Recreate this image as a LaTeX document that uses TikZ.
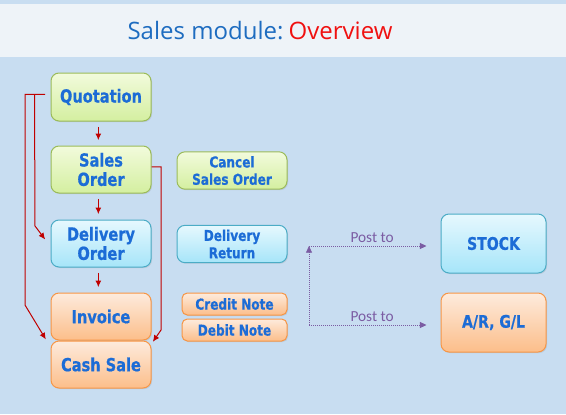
\documentclass[tikz,border=0pt]{standalone}
\usepackage{fontspec}
\setmainfont{Open Sans}
\newfontfamily\boxfont{DejaVu Sans Condensed}[FakeStretch=0.9, BoldFeatures={FakeBold=0.6}]
\newfontfamily\postfont{Carlito}
\usepackage{tikz}
\usetikzlibrary{arrows.meta, shadows}

\definecolor{bgblue}{HTML}{C8DDF1}
\definecolor{titlebg}{HTML}{EEF3F8}
\definecolor{titleblue}{HTML}{1E6CC0}
\definecolor{titlered}{HTML}{F01010}
\definecolor{txtblue}{HTML}{1C6CD6}
\definecolor{linkred}{HTML}{C00000}
\definecolor{postpurple}{HTML}{7B5CA3}
\definecolor{greenline}{HTML}{9BBB59}
\definecolor{greentop}{HTML}{F2FBDC}
\definecolor{greenbot}{HTML}{D4EFA0}
\definecolor{blueline}{HTML}{4BACC6}
\definecolor{bluetop}{HTML}{E6F8FE}
\definecolor{bluebot}{HTML}{A6E5F9}
\definecolor{orangeline}{HTML}{F79646}
\definecolor{orangetop}{HTML}{FDEBDD}
\definecolor{orangebot}{HTML}{FCBE8A}

\tikzset{
  box/.style={draw, rounded corners=6pt, line width=0.75pt, align=center, text=txtblue,
    font=\boxfont\bfseries\fontsize{13.5}{14.5}\selectfont, inner sep=0pt,
    drop shadow={shadow xshift=0.8pt, shadow yshift=-0.8pt, opacity=0.2}},
  greenbox/.style={box, draw=greenline, top color=greentop, bottom color=greenbot},
  bluebox/.style={box, draw=blueline, top color=bluetop, bottom color=bluebot},
  orangebox/.style={box, draw=orangeline, top color=orangetop, bottom color=orangebot},
  mainbox/.style={minimum width=75pt, minimum height=35.25pt},
  sidebox/.style={minimum width=82.5pt, minimum height=28pt, font=\boxfont\bfseries\fontsize{11.2}{13}\selectfont},
  notebox/.style={minimum width=78.75pt, minimum height=16.5pt, rounded corners=4pt, font=\boxfont\bfseries\fontsize{11.2}{12}\selectfont},
  postbox/.style={minimum width=78.75pt, minimum height=44.25pt, font=\boxfont\bfseries\fontsize{13}{14}\selectfont},
  link/.style={linkred, line width=0.75pt, -{Latex[length=5pt,width=4.5pt]}},
  post/.style={postpurple, line width=0.6pt, dash pattern=on 0.75pt off 0.75pt, -{Triangle[length=5pt,width=4.5pt]}},
  posttext/.style={text=postpurple, inner sep=1.5pt, font=\postfont\fontsize{11.5}{13}\selectfont}
}

\begin{document}
\begin{tikzpicture}[x=0.75pt, y=-0.75pt]
  \useasboundingbox (0,0) rectangle (566,414);
  \fill[bgblue] (0,0) rectangle (566,414);
  \fill[titlebg] (0,4) rectangle (566,57);
  \node[text=titleblue, font=\fontsize{18}{20}\selectfont] (title) at (260,31)
    {Sales module:\hspace{0.22em}\textcolor{titlered}{Overview}};

  \node[greenbox, mainbox, minimum height=36pt] (quot) at (101,97) {Quotation};
  \node[greenbox, mainbox] (so) at (101,169.5) {Sales\\Order};
  \node[bluebox, mainbox] (do) at (101,243.5) {Delivery\\Order};
  \node[orangebox, mainbox] (inv) at (101,316.5) {Invoice};
  \node[orangebox, mainbox] (cash) at (101,364.5) {Cash Sale};

  \node[greenbox, sidebox] (cancel) at (232,170.5) {Cancel\\Sales Order};
  \node[bluebox, sidebox] (dret) at (232,244) {Delivery\\Return};
  \node[orangebox, notebox] (credit) at (234.5,304) {Credit Note};
  \node[orangebox, notebox] (debit) at (234.5,330) {Debit Note};

  \node[bluebox, postbox] (stock) at (493.5,243.5) {STOCK};
  \node[orangebox, postbox] (argl) at (493.5,322.5) {A/R, G/L};

  \draw[link] ([shift={(-2pt,-4pt)}]quot.south) -- ([shift={(-2pt,4pt)}]so.north);
  \draw[link] ([shift={(-2pt,-4pt)}]so.south) -- ([shift={(-2pt,4pt)}]do.north);
  \draw[link] ([shift={(-2pt,-4pt)}]do.south) -- ([shift={(-2pt,4pt)}]inv.north);

  \coordinate (bendA) at (25,305);
  \coordinate (bendB) at (35,226);
  \coordinate (bendC) at (161,330);
  \draw[link] ([shift={(-4pt,2pt)}]quot.west) -| (bendA) -- ([shift={(-3.5pt,0.8pt)}]cash.north west);
  \draw[link] ([shift={(-12pt,2pt)}]quot.west) -- (bendB) -- ([shift={(-4pt,3pt)}]do.west);
  \draw[link] ([yshift=2pt]so.east) -| (bendC) -- ([shift={(1pt,-1pt)}]cash.north east);

  \coordinate (hubS) at (309,246);
  \coordinate (hubA) at (309,325);
  \draw[post] (hubA) -- (hubS);
  \draw[post, shorten >=10.5pt] (hubS) -- node[above=0.5pt, pos=0.48, posttext] {Post to} (hubS -| stock.west);
  \draw[post, shorten >=10.5pt] (hubA) -- node[above=0.5pt, pos=0.48, posttext] {Post to} (hubA -| argl.west);
\end{tikzpicture}
\end{document}
